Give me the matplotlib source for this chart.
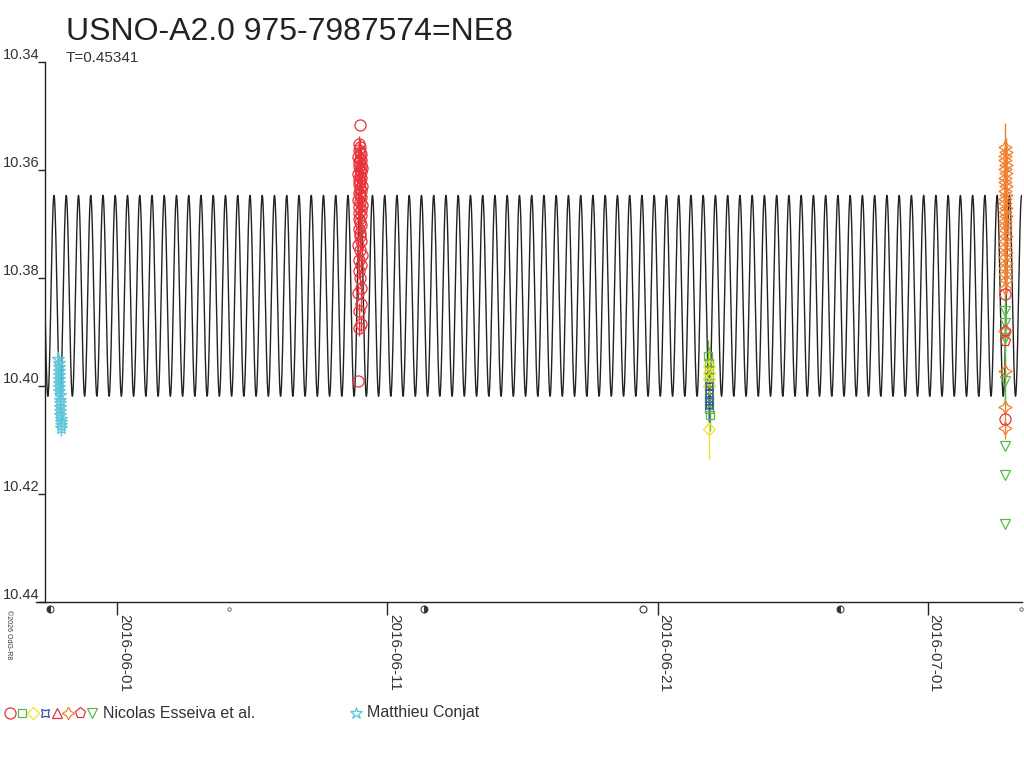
import numpy as np
import matplotlib
matplotlib.use("Agg")
import matplotlib.pyplot as plt
from matplotlib.lines import Line2D
from matplotlib.transforms import blended_transform_factory

plt.rcParams['font.family'] = ['Liberation Sans', 'DejaVu Sans']

# ---------------- data (days since 2016-06-01 00:00 UT, magnitudes) ----------------
BASE = np.datetime64('2016-06-01T00:00:00')
title = "USNO-A2.0 975-7987574=NE8"
subtitle = "T=0.45341"
period = 0.45341          # days
model_mean = 10.3833
model_amp = 0.0186
model_epoch = -2.343      # time of maximum light (days since base)

xlim_days = [-2.676, 33.49]
ylim_mag = [10.44, 10.34]
ytick_vals = [10.34, 10.36, 10.38, 10.40, 10.42, 10.44]
ytick_labels = ["10.34", "10.36", "10.38", "10.40", "10.42", "10.44"]
xtick_days = [0, 10, 20, 30]
xtick_labels = ["2016-06-01", "2016-06-11", "2016-06-21", "2016-07-01"]
moon_days = [-2.49, 4.125, 11.34, 19.46, 26.76, 33.46]
moon_kind = ["lq", "new", "fq", "full", "lq", "new"]

# Matthieu Conjat (cyan stars)
conjat_t = [-2.18, -2.17, -2.17, -2.16, -2.16, -2.15, -2.15, -2.14, -2.14, -2.13,
            -2.13, -2.12, -2.12, -2.11, -2.11, -2.10, -2.10, -2.09, -2.09]
conjat_mag = [10.3950, 10.3958, 10.3965, 10.3972, 10.3980, 10.3987, 10.3995, 10.4002,
              10.4010, 10.4017, 10.4025, 10.4032, 10.4039, 10.4047, 10.4054, 10.4062,
              10.4067, 10.4073, 10.4078]
conjat_err = 0.0014

# Nicolas Esseiva et al. - red circles (June 9-10)
red_t = [8.97, 8.95, 9.00, 8.93, 8.98, 9.03, 8.92, 8.99, 9.04, 8.96, 9.01, 8.94, 9.05, 8.97,
         9.02, 8.91, 8.99, 9.04, 8.95, 9.00, 8.93, 9.06, 8.97, 9.02, 8.94, 8.99, 9.03, 8.92,
         8.98, 9.05, 8.95, 9.01, 8.96, 9.03, 8.93, 8.99, 9.04, 8.94, 9.00, 8.97, 9.02, 8.91,
         8.98, 9.05, 8.95, 9.01, 8.93, 8.99, 9.04, 8.92, 9.03, 8.94, 9.02, 8.96, 8.92]
red_mag = [10.3517, 10.3552, 10.3558, 10.3563, 10.3567, 10.3571, 10.3575, 10.3579, 10.3582,
           10.3586, 10.3590, 10.3593, 10.3597, 10.3600, 10.3604, 10.3608, 10.3611, 10.3615,
           10.3619, 10.3622, 10.3626, 10.3630, 10.3634, 10.3638, 10.3642, 10.3646, 10.3650,
           10.3655, 10.3660, 10.3664, 10.3669, 10.3674, 10.3679, 10.3684, 10.3690, 10.3696,
           10.3702, 10.3709, 10.3716, 10.3723, 10.3731, 10.3739, 10.3748, 10.3757, 10.3766,
           10.3776, 10.3787, 10.3800, 10.3818, 10.3828, 10.3848, 10.3861, 10.3885, 10.3893,
           10.3991]
red_err = [0.0] + [0.0015] * 53 + [0.0]

# Nicolas Esseiva et al. - June 22-23 night
green_t = [21.88, 21.89, 21.90, 21.89, 21.91, 21.90, 21.92, 21.91, 21.92, 21.93]
green_mag = [10.3945, 10.3958, 10.3970, 10.3983, 10.3994, 10.4007, 10.4020, 10.4031, 10.4043, 10.4054]
green_err = [0.003] * 10
yellow_t = [21.91, 21.90, 21.92, 21.91, 21.92]
yellow_mag = [10.3963, 10.3976, 10.3987, 10.4000, 10.4080]
yellow_err = [0.003, 0.003, 0.003, 0.003, 0.0055]
blue_t = [21.90, 21.91, 21.90, 21.91]
blue_mag = [10.4000, 10.4013, 10.4028, 10.4036]
blue_err = [0.003] * 4

# Nicolas Esseiva et al. - July 3-4 night
orange_t = [32.86, 32.88, 32.85, 32.87, 32.89, 32.86, 32.88, 32.85, 32.87, 32.89, 32.86,
            32.88, 32.85, 32.87, 32.89, 32.86, 32.88, 32.85, 32.87, 32.86, 32.88, 32.85,
            32.87, 32.89, 32.86, 32.88, 32.87, 32.85, 32.88, 32.86, 32.87, 32.86, 32.87, 32.86]
orange_mag = [10.3558, 10.3566, 10.3574, 10.3582, 10.3590, 10.3598, 10.3606, 10.3614,
              10.3622, 10.3630, 10.3638, 10.3646, 10.3654, 10.3662, 10.3670, 10.3678,
              10.3686, 10.3694, 10.3702, 10.3712, 10.3722, 10.3732, 10.3742, 10.3752,
              10.3762, 10.3772, 10.3782, 10.3792, 10.3804, 10.3818, 10.3898, 10.3972,
              10.4038, 10.4078]
orange_err = [0.0045] + [0.0025] * 29 + [0.002] * 4
red2_t = [32.87, 32.86]
red2_mag = [10.3829, 10.4062]
red2_err = [0.0, 0.0]
pent_t = [32.87, 32.86]
pent_mag = [10.3898, 10.3917]
pent_err = [0.0, 0.0]
gtri_t = [32.86, 32.87, 32.86, 32.87, 32.86, 32.86, 32.86]
gtri_mag = [10.3861, 10.3883, 10.3911, 10.3991, 10.4112, 10.4164, 10.4255]
gtri_err = [0.003, 0.003, 0.004, 0.0045, 0.0, 0.0, 0.0]

legend_left_label = "Nicolas Esseiva et al."
legend_right_label = "Matthieu Conjat"
copyright_text = "\u00a92026 OdG-R8"

# ---------------- colours / styles ----------------
C_RED = '#e8333a'
C_GREEN = '#5cb84a'
C_YELLOW = '#f2e22a'
C_BLUE = '#3a4fa3'
C_ORANGE = '#f07f2e'
C_CYAN = '#5ec6da'
C_LINE = '#222222'
C_TEXT = '#222222'


def to_dt(days):
    d = np.asarray(days, dtype=float)
    return BASE + np.round(d * 86400.0).astype('timedelta64[s]')


fig = plt.figure(figsize=(10.24, 7.68), dpi=100)
ax = fig.add_axes([45 / 1024, 1 - 602 / 768, (1022 - 45) / 1024, 540 / 768])

# model curve
tm = np.linspace(xlim_days[0], xlim_days[1], 40000)
mag_model = model_mean - model_amp * np.cos(2 * np.pi * (tm - model_epoch) / period)
ax.plot(to_dt(tm), mag_model, color=C_LINE, lw=1.0, zorder=2)


def series(t, m, err, color, marker, ms=8, zorder=3):
    x = to_dt(t)
    ax.errorbar(x, m, yerr=err, fmt='none', ecolor=color, elinewidth=1.0, zorder=zorder)
    ax.plot(x, m, ls='none', marker=marker, ms=ms, mfc='none', mec=color, mew=0.9, zorder=zorder + 0.1)


series(conjat_t, conjat_mag, conjat_err, C_CYAN, '*', ms=9.5)
series(red_t, red_mag, red_err, C_RED, 'o', ms=8)
series(green_t, green_mag, green_err, C_GREEN, 's', ms=6)
series(yellow_t, yellow_mag, yellow_err, C_YELLOW, 'D', ms=6)
series(blue_t, blue_mag, blue_err, C_BLUE, (4, 1, 45), ms=8)
series(orange_t, orange_mag, orange_err, C_ORANGE, (4, 1, 0), ms=9.5)
series(gtri_t, gtri_mag, gtri_err, C_GREEN, 'v', ms=7)
series(red2_t, red2_mag, red2_err, C_RED, 'o', ms=8)
series(pent_t, pent_mag, pent_err, C_RED, 'p', ms=8)

# axes setup
ax.set_xlim(to_dt(xlim_days[0]), to_dt(xlim_days[1]))
ax.set_ylim(*ylim_mag)
for s in ['top', 'right']:
    ax.spines[s].set_visible(False)
ax.spines['left'].set_color('#222222')
ax.spines['bottom'].set_color('#222222')
ax.spines['left'].set_linewidth(1.0)
ax.spines['bottom'].set_linewidth(1.0)

ax.set_yticks(ytick_vals, ytick_labels, va='bottom', fontsize=10.5, color='#333333')
ax.tick_params(axis='y', direction='out', length=5, width=1, pad=-1, colors='#222222')
ax.set_xticks(to_dt(xtick_days), xtick_labels, rotation=-90, ha='left', va='top',
              fontsize=11, color='#333333')
ax.tick_params(axis='x', direction='out', length=9, width=1, pad=0, colors='#222222')
for lab in ax.get_yticklabels() + ax.get_xticklabels():
    lab.set_color('#333333')
for lab in ax.get_xticklabels():
    lab.set_x(lab.get_position()[0])

# extend bottom axis line to the left
fig.add_artist(Line2D([36 / 1024, 45 / 1024], [1 - 602 / 768] * 2, color='#222222', lw=1.0))

# moon phase symbols
trans = blended_transform_factory(ax.transData, ax.transAxes)
for d, k in zip(moon_days, moon_kind):
    x = to_dt([d])
    if k == 'full':
        ax.plot(x, [-0.013], transform=trans, marker='o', ms=5, mfc='none', mec='#333333',
                mew=0.8, clip_on=False)
    elif k == 'new':
        ax.plot(x, [-0.013], transform=trans, marker='o', ms=2.5, mfc='none', mec='#555555',
                mew=0.6, clip_on=False)
    else:
        fs = 'left' if k == 'lq' else 'right'
        ax.plot(x, [-0.013], transform=trans, marker='o', ms=5, fillstyle=fs,
                mfc='#333333', mfcalt='white', mec='#333333', mew=0.7, clip_on=False)

# titles
fig.text(66 / 1024, 1 - 40 / 768, title, fontsize=23, color=C_TEXT, va='baseline', ha='left')
fig.text(66 / 1024, 1 - 62 / 768, subtitle, fontsize=11, color='#333333', va='baseline', ha='left')
fig.text(5 / 1024, 1 - 610 / 768, copyright_text, fontsize=5, rotation=-90, ha='left', va='top',
         color='#333333')

# legend row
lg = fig.add_axes([0, 0, 1, 1], facecolor='none')
lg.set_xlim(0, 1024)
lg.set_ylim(768, 0)
lg.axis('off')
leg_items = [('o', C_RED, 8), ('s', C_GREEN, 6), ('D', C_YELLOW, 6), ((4, 1, 45), C_BLUE, 8),
             ('^', C_RED, 7), ((4, 1, 0), C_ORANGE, 9), ('p', C_RED, 8), ('v', C_GREEN, 7)]
leg_x = [10, 22, 33, 45, 57, 68, 80, 92]
for (mk, col, ms), xx in zip(leg_items, leg_x):
    lg.plot([xx], [713], ls='none', marker=mk, ms=ms, mfc='none', mec=col, mew=0.9)
lg.text(103, 713, legend_left_label, fontsize=11.5, color='#333333', va='center', ha='left')
lg.plot([356], [713], ls='none', marker='*', ms=9, mfc='none', mec=C_CYAN, mew=0.9)
lg.text(367, 713, legend_right_label, fontsize=11.5, color='#333333', va='center', ha='left')

fig.savefig('out.png', dpi=100)
